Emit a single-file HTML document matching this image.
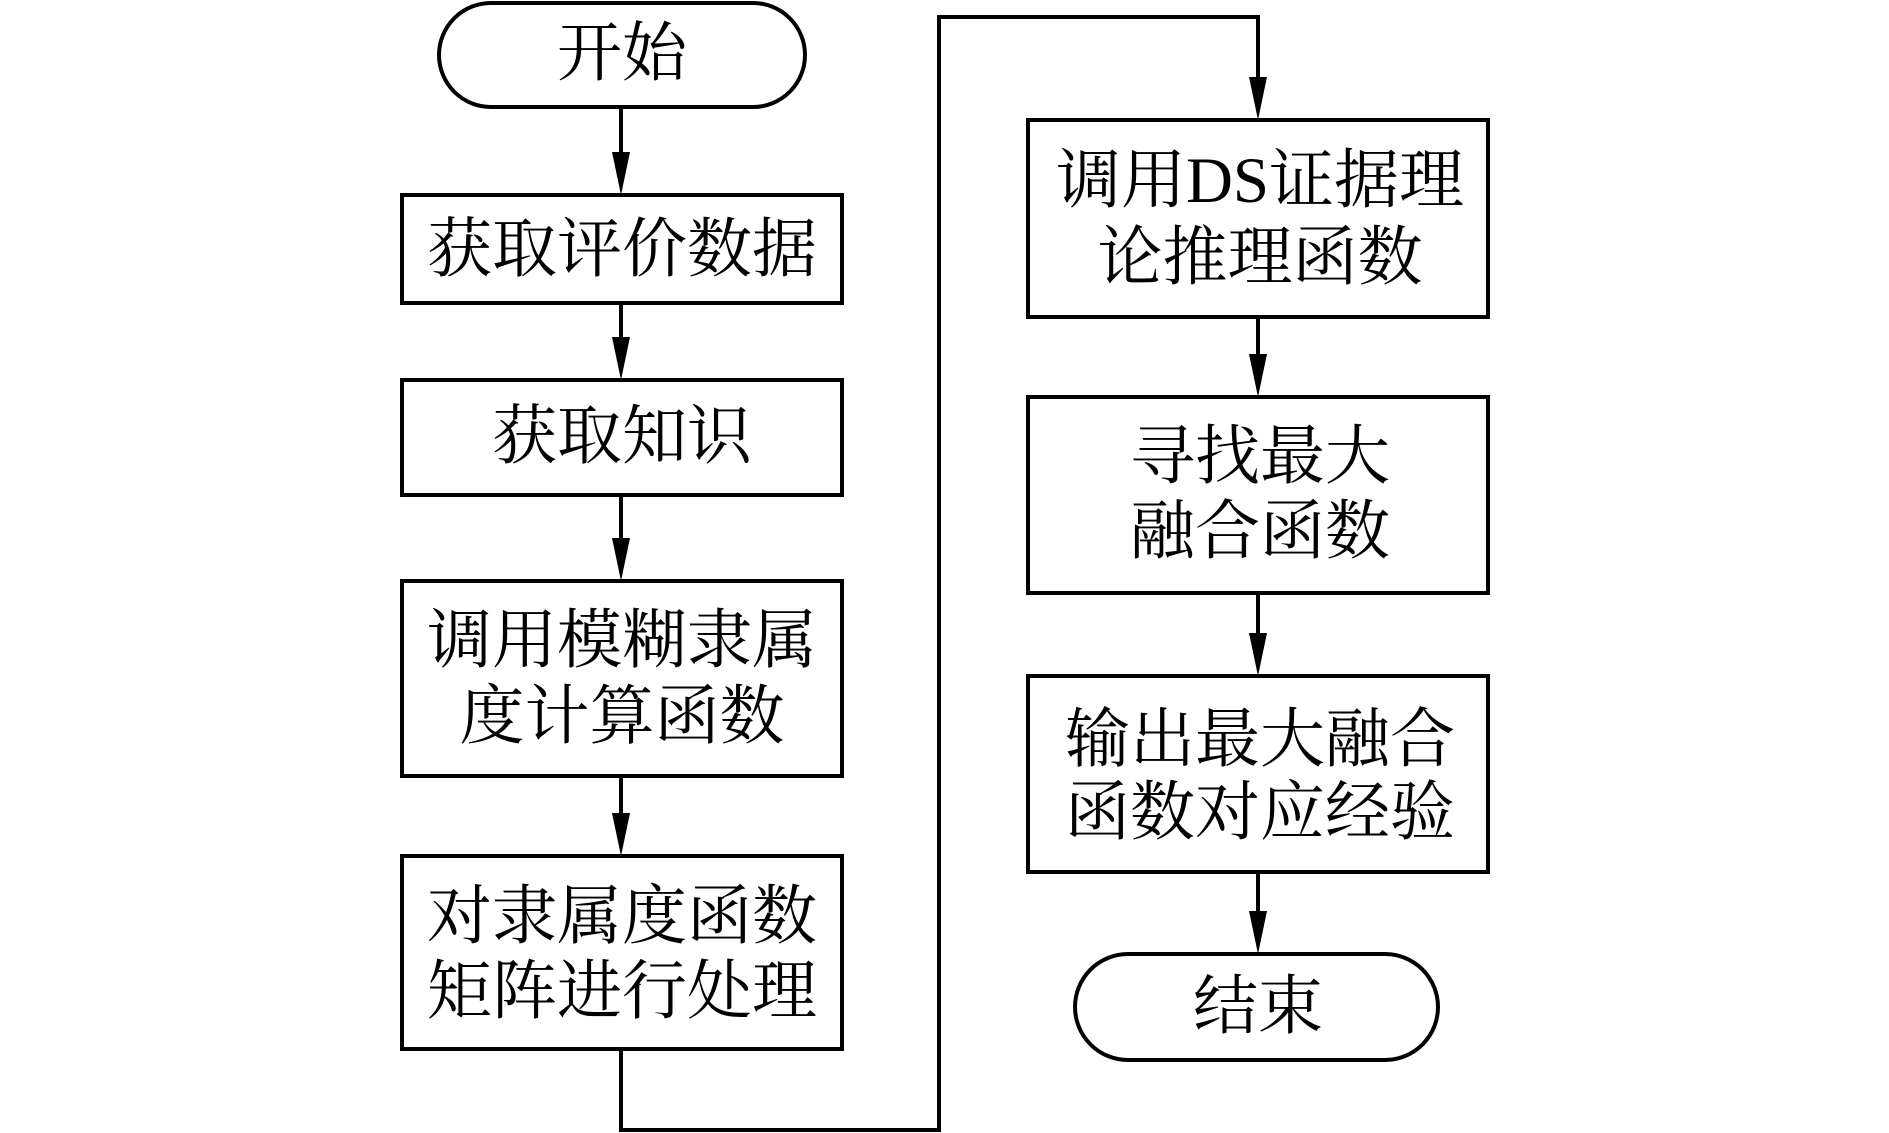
<!DOCTYPE html>
<html><head><meta charset="utf-8"><style>
html,body{margin:0;padding:0;background:#fff;}
svg{display:block;}
text{font-family:"Liberation Serif","Noto Serif CJK SC",serif;font-size:65px;fill:#000;text-anchor:middle;dominant-baseline:central;}
</style></head><body>
<svg width="1889" height="1133" viewBox="0 0 1889 1133" xmlns="http://www.w3.org/2000/svg">
<g fill="none" stroke="#000" stroke-width="4">
<rect x="439" y="3" width="366" height="104" rx="52"/>
<rect x="402" y="195" width="440" height="108"/>
<rect x="402" y="380" width="440" height="115"/>
<rect x="402" y="581" width="440" height="195"/>
<rect x="402" y="856" width="440" height="193"/>
<rect x="1028" y="120" width="460" height="197"/>
<rect x="1028" y="397" width="460" height="196"/>
<rect x="1028" y="676" width="460" height="196"/>
<rect x="1075" y="954" width="363" height="106" rx="53"/>
<path d="M621 107V160M621 303V345M621 495V546M621 776V821"/>
<path d="M621 1049V1130H939V17H1258V85"/>
<path d="M1258 317V362M1258 593V641M1258 872V919"/>
</g>
<g fill="#000">
<polygon points="612,152 630,152 621,195"/>
<polygon points="612,337 630,337 621,380"/>
<polygon points="612,538 630,538 621,581"/>
<polygon points="612,813 630,813 621,856"/>
<polygon points="1249,77 1267,77 1258,120"/>
<polygon points="1249,354 1267,354 1258,397"/>
<polygon points="1249,633 1267,633 1258,676"/>
<polygon points="1249,911 1267,911 1258,954"/>
</g>
<text x="622" y="54">开始</text>
<text x="622" y="250">获取评价数据</text>
<text x="622" y="437">获取知识</text>
<text x="622" y="641">调用模糊隶属</text>
<text x="622" y="717">度计算函数</text>
<text x="622" y="917">对隶属度函数</text>
<text x="622" y="992">矩阵进行处理</text>
<text x="1260" y="181">调用DS证据理</text>
<text x="1260" y="258">论推理函数</text>
<text x="1260" y="457">寻找最大</text>
<text x="1260" y="532">融合函数</text>
<text x="1260" y="740">输出最大融合</text>
<text x="1260" y="813">函数对应经验</text>
<text x="1258" y="1007">结束</text>
</svg>
</body></html>
